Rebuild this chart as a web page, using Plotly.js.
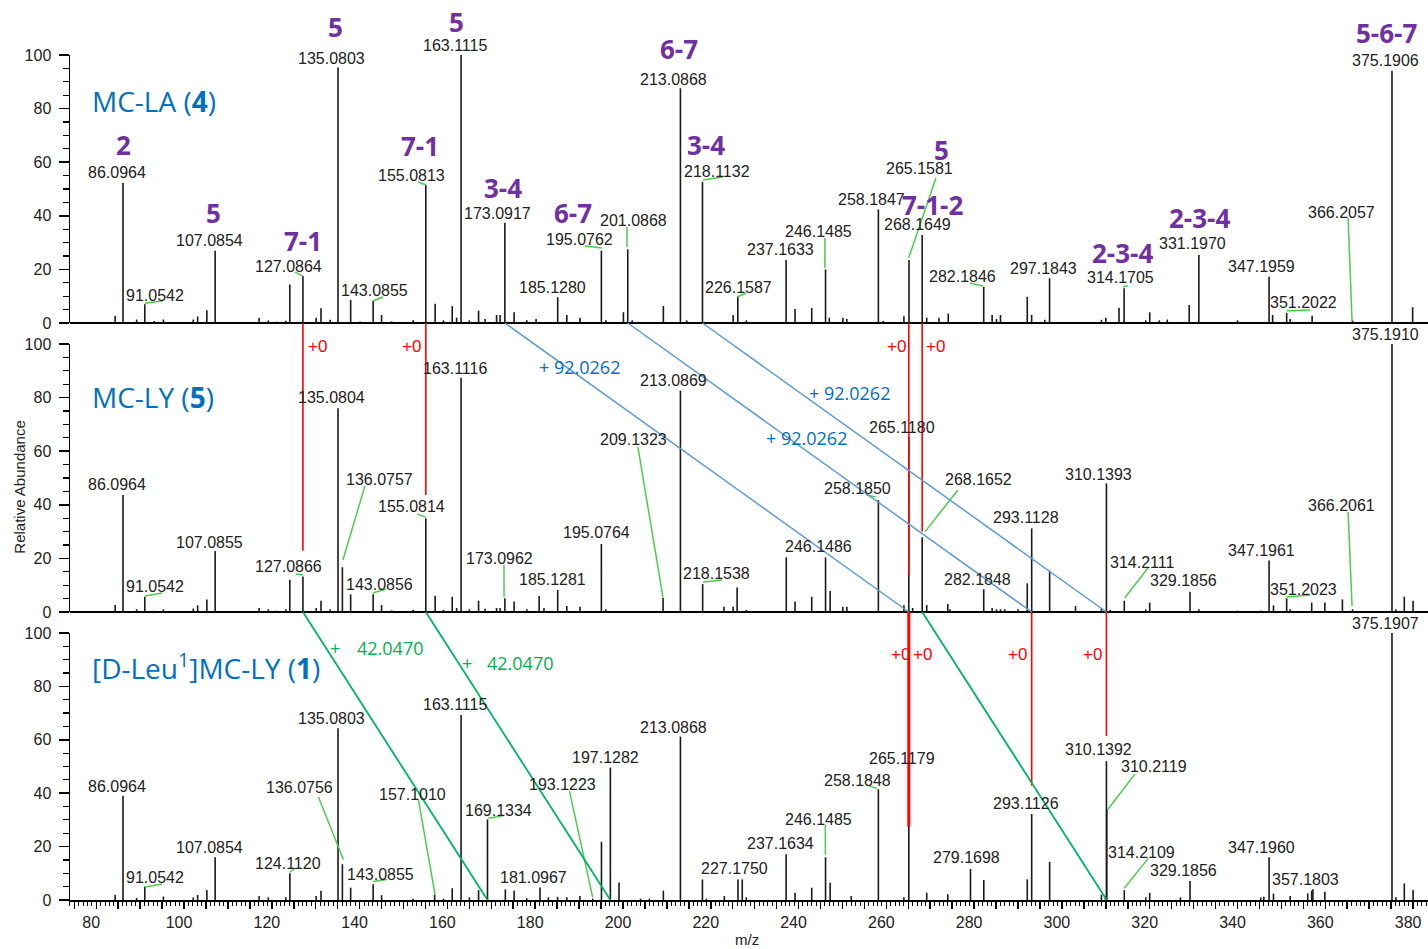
<!DOCTYPE html>
<html><head><meta charset="utf-8">
<script src="https://cdn.plot.ly/plotly-3.0.1.min.js"></script>
<style>html,body{margin:0;padding:0;background:#fff}#chart{width:1428px;height:949px}</style>
</head><body><div id="chart"></div>
<script>
// ---------------- DATA ----------------
// MC-LA (4) spectrum
const laMz  = [84.3,86.0964,89.2,91.0542,93.2,95.3,102.1,103.1,105.2,107.0854,117.1,119.2,121.1,123.2,124.1,127.0864,130.1,131.2,133.3,135.0803,137.96,140.1,143.0855,145.0,147.3,152.2,155.0813,157.2,159.1,161.1,162.1,163.1115,165.0,167.1,168.6,171.2,172.0,173.0917,175.2,178.1,180.2,185.128,187.2,190.2,195.0762,196.1,200.1,201.0868,202.1,209.2,213.0868,214.5,218.1132,225.1,226.1587,228.1,237.1633,239.2,243.0,246.1485,247.0,250.1,251.0,258.1847,259.3,264.0,265.1581,268.1649,269.2,272.0,274.1,282.1846,284.1,285.1,286.0,292.1,293.1,296.1,297.1843,309.0,310.0,313.0,314.1705,319.1,320.0,322.2,324.0,329.0,331.197,340.0,347.1959,348.0,351.2022,352.0,357.0,366.2057,375.1906,379.9];
const laInt = [2.7,52.3,1.3,7,0.7,1.3,1.3,2.4,4.8,27,2,1,0.5,0.8,14.4,17.5,2,5.5,1.2,95.3,8.6,0.6,8.2,3,0.6,1,51.5,7.2,1,6.3,2,100,1,4.6,1.5,3,3,37.4,4,1,1.5,9.6,3,2,27,1,4,27.5,1,6.3,87.6,1,52.7,3,10,1,23.5,5.2,5.6,20,2,2,1.5,42.4,0.8,2.5,23.5,32.8,2,2,3.5,13.5,3,1.5,3,9.8,3,1.2,16.7,1.2,2,5.7,13,1,4,1,1.3,6.7,25.4,1,17.3,3,3.8,1.5,2.7,1,94.1,5.9];

// MC-LY (5) spectrum
const lyMz  = [84.3,86.0964,89.2,91.0542,93.2,95.3,102.1,103.1,105.2,107.0855,117.1,119.2,121.1,123.2,124.1,127.0866,130.1,131.2,133.3,135.0804,136.0757,137.96,143.0856,145.0,147.3,152.2,155.0814,157.2,159.1,161.1,162.1,163.1116,165.0,167.1,168.6,171.2,172.0,173.0962,175.2,178.1,180.9,182.0,185.1281,187.2,190.2,195.0764,196.1,209.1323,213.0869,218.1538,223.0,225.1,226.0,228.1,237.2,239.2,243.0,246.1486,247.2,250.1,251.0,258.185,264.0,265.118,266.0,268.1652,269.2,274.0,274.5,282.1848,284.1,285.1,286.0,287.0,290.0,292.1,293.1128,297.2,303.1,309.0,310.1393,311.0,314.2111,319.1,320.0,329.1856,331.2,340.0,345.3,347.1961,348.2,351.2023,352.0,356.9,359.9,363.9,366.2061,375.191,376.1,378.0,380.0];
const lyInt = [2.6,43.7,1,5.7,0.5,1,1.3,2.5,4.7,22.8,1.5,1,0.5,1,12,13.2,1.5,4.2,1,76,16.7,6.6,6.6,2.6,0.6,0.8,35,6.1,0.8,5.7,1.5,87.4,1,4.2,1.2,1.5,1.5,5.1,3.9,1,6,1.5,8.2,2.2,2,25.4,1,5.3,82.6,10.4,2,2,9.1,0.8,20.4,3.9,5.7,20.4,7.8,2,2,41.8,2.5,65.4,1.5,27.9,2.6,3,1,8.5,1.5,1,1,1,1,10.7,31.2,15.4,2.2,1.5,48,0.8,4.2,1,3.5,7.6,1,0.5,0.5,19.2,2.5,5.1,1,3.5,3.5,4.7,1,100,1,5.7,4.2];

// [D-Leu1]MC-LY (1) spectrum
const dlMz  = [84.3,86.0964,89.2,91.0542,95.3,102.1,103.1,105.2,107.0854,117.1,119.2,123.2,124.112,130.1,131.2,135.0803,136.0756,137.96,143.0855,145.0,152.2,157.101,159.1,161.1,163.1115,165.0,167.1,169.1334,173.2,175.2,178.1,181.0967,183.0,185.1,187.2,190.2,193.1223,195.1,197.1282,199.1,204.0,206.0,209.2,213.0868,218.1,219.0,223.1,226.2,227.175,228.1,237.1634,239.2,243.0,246.1485,247.2,252.0,258.1848,264.0,265.1179,269.2,274.0,279.1698,282.2,292.1,293.1126,297.2,309.0,309.9,310.1392,310.2119,314.2109,319.1,320.0,327.0,329.1856,345.3,346.0,347.196,348.2,352.0,356.0,356.9,357.1803,359.9,375.1907,376.1,378.0,380.0];
const dlInt = [2,39,0.8,5,1.3,1,1.9,3.7,16,1.5,1,1,10,1.5,3.5,64.3,13.4,4.6,5.9,1.8,0.5,2,0.5,4.4,69.3,1,3.7,30.2,4,3.5,0.7,4.7,1,1.2,1,1.5,0.5,21.8,49.6,6.6,0.5,0.5,3.5,61.2,7.7,0.5,1.5,7.7,7.7,1,17.1,2.7,4.6,16,6.5,1.5,41.5,1,49.1,2.7,2.2,11.6,7.5,7.7,32.2,14.3,2,1.5,52,34,3.7,1,2.7,1,7.1,1,1.2,16,2.4,1.5,2.5,3.5,4,3.1,100,1,6.2,3.7];

// peak labels: [text, label m/z position, label abundance position]
const laLabels = [['86.0964',84.7,56.3],['91.0542',93.4,10.4],['107.0854',105.9,30.6],['127.0864',123.9,20.9],['135.0803',133.7,98.8],['143.0855',143.5,12.3],['155.0813',151.9,54.9],['163.1115',161.7,103.4],['173.0917',171.5,41],['185.1280',184.05,13.4],['195.0762',190.2,31],['201.0868',202.3,38.4],['213.0868',211.6,91],['218.1132',221.4,56.7],['226.1587',226.4,13.4],['237.1633',235.8,27.6],['246.1485',244.6,34.3],['258.1847',256.7,45.9],['265.1581',267.6,57.5],['268.1649',267.0,36.6],['282.1846',277.4,17.2],['297.1843',295.7,20.5],['314.1705',313.4,16.8],['331.1970',329.8,29.5],['347.1959',345.5,20.9],['351.2022',355.1,7.5],['366.2057',363.8,41.4],['375.1906',373.8,98.1]];
const laFragments = [['2',86.3,66.4],['5',106.6,41],['7-1',127.1,30.6],['5',134.6,110.4],['7-1',153.8,66],['5',162.1,112.3],['3-4',172.7,50.5],['6-7',188.6,41],['6-7',212.7,102.2],['3-4',218.8,66.6],['5',272.6,64.6],['7-1-2',270.4,44],['2-3-4',313.9,26.3],['2-3-4',331.4,39.2],['5-6-7',374,108.2]];
const lyLabels = [['375.1910',373.8,103.7],['163.1116',161.7,91],['135.0804',133.7,79.9],['136.0757',144.6,49.3],['155.0814',151.9,39.2],['86.0964',84.7,47.4],['91.0542',93.4,9.7],['107.0855',105.9,26.1],['127.0866',123.9,16.8],['143.0856',144.6,10.1],['173.0962',171.98,20.1],['185.1281',184.05,12.3],['195.0764',194.07,29.5],['209.1323',202.3,64.2],['213.0869',211.6,86.2],['218.1538',221.4,14.2],['246.1486',244.6,24.3],['258.1850',253.5,45.9],['265.1180',263.5,69],['268.1652',281.1,49.4],['282.1848',280.7,12.3],['293.1128',291.8,35.1],['310.1393',308.4,51.3],['314.2111',318.2,18.6],['329.1856',327.6,11.6],['347.1961',345.5,23.1],['351.2023',355.1,8.5],['366.2061',363.8,39.6]];
const dlLabels = [['375.1907',373.8,103.6],['163.1115',161.7,73.4],['135.0803',133.7,68],['86.0964',84.7,42.4],['91.0542',93.4,8.4],['107.0854',105.9,19.6],['124.1120',123.75,13.7],['136.0756',126.2,42.1],['143.0855',144.8,9.7],['157.1010',152.0,39.6],['169.1334',171.6,33.4],['181.0967',179.6,8.5],['193.1223',186.3,43.1],['197.1282',196.1,53.4],['213.0868',211.6,64.7],['227.1750',225.5,11.9],['237.1634',235.8,21.2],['246.1485',244.6,30.2],['258.1848',253.5,44.9],['265.1179',263.5,53.1],['279.1698',278.35,15.9],['293.1126',291.8,36.2],['310.1392',308.4,56.2],['310.2119',321.0,49.9],['314.2109',318.2,17.9],['329.1856',327.6,11],['347.1960',345.5,19.6],['357.1803',355.5,7.5]];

// leader lines [m0,v0,m1,v1]
const laLeaders = [[91.11,7.35,95.28,8.32],[125.28,19.0,127.1,17.5],[143.04,8.2,145.32,9.7],[153.3,52.6,155.12,51.5],[191.33,28.7,195.2,28],[200.9,35.8,200.9,28.4],[218.2,53.4,222.8,54.5],[226,9.7,228.1,11.2],[246.0,31.7,246.0,20.5],[271.3,54.1,265.1,24.3],[279.0,14.9,282,13.8],[313.9,13.5,315.0,13.9],[351.2,4.6,356.5,4.85],[365.2,39.2,366.1,0.7]];
const lyLeaders = [[91.11,6,94.98,7.1],[125.5,14.2,127.1,13.8],[141.2,47,136.2,19.4],[143.04,7.1,146,8.6],[153.07,36.6,155.12,35.4],[172.9,17.5,172.9,5.6],[203.4,61.6,209.1,5.6],[218.2,11.2,222.5,11.9],[255.35,43.7,257.6,42.9],[276.3,45.5,268.8,29.9],[319.6,16.4,314.3,5.2],[351.2,5.6,356.6,6.3],[365.2,37.3,366.1,2.2]];
const dlLeaders = [[91.11,4.9,94.98,6],[124.1,10.4,125.3,11.9],[130.6,38.7,136.3,15.2],[143.1,6.9,146.2,7.7],[153.4,37.5,157.2,1.9],[169.3,30.6,172.9,31.6],[187.8,40.9,193.1,1],[246.1,28.1,246.1,16.9],[255.5,43.1,257.9,41.8],[316.6,47.1,310.5,34],[319.65,15.6,314.2,4.4]];

// relationships between spectra
const sameMz = [[127.0866,'top',0,'mid',22.9],[155.0814,'top',0,'mid',43.7],[265.118,'top',0,'mid',13.8],[268.1652,'top',0,'mid',30.0],[293.113,'mid',0,'bot',42.8],[310.139,'mid',0,'bot',61.4]];
const plus92 = [[173.0917,265.1179],[201.0868,293.1130],[218.1132,310.1394]];
const plus42 = [[127.0866,169.1336],[155.0814,197.1284],[268.1652,310.2122]];
const xTickLabels = [80,100,120,140,160,180,200,220,240,260,280,300,320,340,360,380];

// ---------------- CHART ----------------
const DOM = {top:[0.68284,1], mid:[0.34083,0.65799], bot:[0,0.31598]};
function py(p, v){ const d = DOM[p]; return d[0] + v/100*(d[1]-d[0]); }
function sticks(mz, inten, yax){
  const x=[], y=[];
  mz.forEach((m,i)=>{ x.push(m,m,null); y.push(0,inten[i],null); });
  return {type:'scatter', mode:'lines', x, y, xaxis:'x', yaxis:yax, line:{color:'#1a1a1a', width:1.6}, hoverinfo:'skip', showlegend:false};
}
const ARIAL = 'Liberation Sans, Arial, sans-serif';
const SANS = 'Open Sans, Noto Sans, sans-serif';
const ann = [], shapes = [];
function lbl(p, t, x, y, font, xa){ ann.push({xref:'x', yref:'paper', x, y:py(p,y), text:t, showarrow:false, xanchor:xa||'center', yanchor:'middle', font}); }
function seg(p0,m0,v0,p1,m1,v1,color,w){ shapes.push({type:'line', xref:'x', yref:'paper', x0:m0, y0:py(p0,v0), x1:m1, y1:py(p1,v1), line:{color, width:w}}); }

const mzFont = {family:ARIAL, size:16, color:'#222'};
laLabels.forEach(l=>lbl('top', l[0], l[1], l[2], mzFont));
lyLabels.forEach(l=>lbl('mid', l[0], l[1], l[2], mzFont));
dlLabels.forEach(l=>lbl('bot', l[0], l[1], l[2], mzFont));
laFragments.forEach(l=>lbl('top', '<b>'+l[0]+'</b>', l[1], l[2], {family:SANS, size:26, color:'#7030A0'}));

const leadCol = '#4CCB4C';
laLeaders.forEach(s=>seg('top',s[0],s[1],'top',s[2],s[3],leadCol,1.5));
lyLeaders.forEach(s=>seg('mid',s[0],s[1],'mid',s[2],s[3],leadCol,1.5));
dlLeaders.forEach(s=>seg('bot',s[0],s[1],'bot',s[2],s[3],leadCol,1.5));

// baselines for top & middle panels
['top','mid'].forEach(p=>shapes.push({type:'line', xref:'paper', yref:'paper', x0:0, x1:1, y0:py(p,0), y1:py(p,0), line:{color:'#000', width:2}}));

sameMz.forEach(s=>seg(s[1],s[0],s[2],s[3],s[0],s[4],'#FF0000',1.6));
seg('mid',265.118,0,'bot',265.118,27.5,'#FF0000',3);
plus92.forEach(s=>seg('top',s[0],0,'mid',s[1],0,'#5B9BD5',1.5));
plus42.forEach(s=>seg('mid',s[0],0,'bot',s[1],0,'#00B466',1.8));

const redF = {family:ARIAL, size:17, color:'#FF0000'};
lbl('mid','+0',130.4,98.9,redF); lbl('mid','+0',151.9,98.9,redF);
lbl('mid','+0',262.2,99,redF); lbl('mid','+0',271.1,99,redF);
lbl('bot','+0',263.25,91.8,redF); lbl('bot','+0',268.2,91.8,redF);
lbl('bot','+0',289.8,91.8,redF); lbl('bot','+0',307.0,91.8,redF);
const blueF = {family:SANS, size:18, color:'#0070C0'};
lbl('mid','+ 92.0262',190.2,91.5,blueF); lbl('mid','+ 92.0262',251.7,81.6,blueF); lbl('mid','+ 92.0262',241.7,64.8,blueF);
const greenF = {family:SANS, size:18, color:'#00B050'};
lbl('bot','+',134.4,94.5,greenF); lbl('bot','42.0470',146.9,94.5,greenF);
lbl('bot','+',164.4,88.9,greenF); lbl('bot','42.0470',176.5,88.9,greenF);

const nameF = {family:SANS, size:28, color:'#0070C0'};
lbl('top','MC-LA (<b>4</b>)',78.5,82.8,nameF,'left');
lbl('mid','MC-LY (<b>5</b>)',78.5,80.2,nameF,'left');
lbl('bot','[D-Leu<sup>1</sup>]MC-LY (<b>1</b>)',78.5,87.6,nameF,'left');

ann.push({xref:'paper', yref:'paper', x:-0.0368, y:0.488, text:'Relative Abundance', textangle:-90, showarrow:false, xanchor:'center', yanchor:'middle', font:{family:ARIAL, size:15, color:'#222'}});
ann.push({xref:'paper', yref:'paper', x:0.4985, y:-0.0473, text:'m/z', showarrow:false, xanchor:'center', yanchor:'middle', font:{family:ARIAL, size:15, color:'#222'}});

function yAx(dom){
  return {domain:dom, range:[0,100], tickmode:'linear', tick0:0, dtick:20, ticks:'outside', ticklen:10, tickwidth:1.5, tickcolor:'#000',
    showline:true, linewidth:1.5, linecolor:'#000', showgrid:false, zeroline:false, anchor:'x', fixedrange:true, ticklabelstandoff:4,
    minor:{tickmode:'linear', tick0:0, dtick:5, ticks:'outside', ticklen:6, tickwidth:1.2, tickcolor:'#000', showgrid:false},
    tickfont:{family:ARIAL, size:16, color:'#222'}};
}
const tv=[], tt=[];
for(let v=75; v<=380; v+=5){ tv.push(v); tt.push(xTickLabels.includes(v)? String(v) : ' '); }

const layout = {
  width:1428, height:949, margin:{l:70, r:0, t:55, b:49}, paper_bgcolor:'#fff', plot_bgcolor:'rgba(0,0,0,0)', showlegend:false,
  xaxis:{domain:[0,1], range:[74.02,383.4], anchor:'y3', tickmode:'array', tickvals:tv, ticktext:tt, ticks:'outside', ticklen:7, tickwidth:1.5, tickcolor:'#000',
    showline:true, linewidth:2, linecolor:'#000', showgrid:false, zeroline:false, ticklabelshift:-5, fixedrange:true,
    minor:{tickmode:'linear', tick0:0, dtick:1, ticks:'outside', ticklen:4, tickwidth:1, tickcolor:'#000', showgrid:false},
    tickfont:{family:ARIAL, size:16, color:'#222'}},
  yaxis:yAx(DOM.top), yaxis2:yAx(DOM.mid), yaxis3:yAx(DOM.bot),
  annotations:ann, shapes:shapes
};
const data = [sticks(laMz, laInt, 'y'), sticks(lyMz, lyInt, 'y2'), sticks(dlMz, dlInt, 'y3')];
Plotly.newPlot('chart', data, layout, {staticPlot:true, displayModeBar:false});
</script></body></html>
